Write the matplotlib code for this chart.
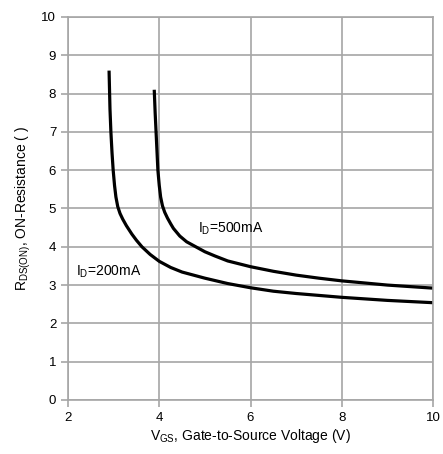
import matplotlib
matplotlib.use('Agg')
import matplotlib.pyplot as plt

plt.rcParams['font.family'] = ['Liberation Sans', 'DejaVu Sans']
plt.rcParams['mathtext.fontset'] = 'custom'
plt.rcParams['mathtext.rm'] = 'Liberation Sans'

# Curves
vgs_200 = [2.90, 2.92, 2.94, 2.965, 2.99, 3.02, 3.05, 3.09, 3.14, 3.20, 3.28, 3.40, 3.50, 3.62,
           3.80, 4.0, 4.25, 4.5, 5.0, 5.5, 6.0, 6.5, 7.0, 8.0, 9.0, 10.0]
rds_200 = [8.6, 7.6, 7.0, 6.45, 6.0, 5.6, 5.3, 5.05, 4.87, 4.72, 4.55, 4.33, 4.17, 4.0,
           3.8, 3.62, 3.46, 3.34, 3.18, 3.04, 2.93, 2.84, 2.78, 2.68, 2.6, 2.54]

vgs_500 = [3.89, 3.91, 3.93, 3.95, 3.97, 4.0, 4.03, 4.07, 4.12, 4.18, 4.25, 4.31, 4.45, 4.6, 4.8,
           5.0, 5.22, 5.5, 6.0, 6.5, 7.0, 7.5, 8.0, 9.0, 10.0]
rds_500 = [8.1, 7.5, 7.0, 6.5, 6.0, 5.6, 5.3, 5.07, 4.9, 4.75, 4.6, 4.48, 4.28, 4.13, 4.0,
           3.87, 3.76, 3.63, 3.48, 3.36, 3.26, 3.18, 3.11, 3.0, 2.92]

x_ticks = [2, 4, 6, 8, 10]
y_ticks = list(range(0, 11))

grid_col = '#a6a6a6'

fig = plt.figure(figsize=(4.43, 4.54), dpi=100)
ax = fig.add_axes([0.1535, 0.119, 0.824, 0.8436])

ax.plot(vgs_200, rds_200, color='black', lw=2.3, solid_capstyle='butt')
ax.plot(vgs_500, rds_500, color='black', lw=2.3, solid_capstyle='butt')

ax.set_xlim(2, 10)
ax.set_ylim(0, 10)
ax.set_xticks(x_ticks)
ax.set_yticks(y_ticks)
ax.grid(True, color=grid_col, lw=1.2)
for s in ax.spines.values():
    s.set_color(grid_col)
    s.set_linewidth(1.2)
ax.tick_params(colors=grid_col, labelcolor='black', labelsize=9.5, length=5, width=1.2)

ax.text(4.85, 4.46, r'$\mathregular{I_D}$=500mA', fontsize=10, va='center', ha='left')
ax.text(2.18, 3.34, r'$\mathregular{I_D}$=200mA', fontsize=10, va='center', ha='left')

ax.set_xlabel(r'$\mathregular{V_{GS}}$, Gate-to-Source Voltage (V)', fontsize=10, labelpad=2)
ax.set_ylabel(r'$\mathregular{R_{DS(ON)}}$, ON-Resistance ( )', fontsize=10, labelpad=6)

fig.savefig('out.png', dpi=100)
